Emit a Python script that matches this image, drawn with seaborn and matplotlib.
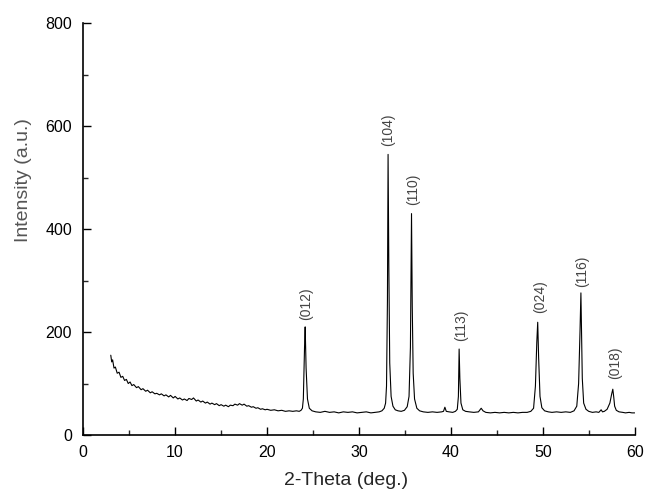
import matplotlib
matplotlib.use("Agg")
import matplotlib.pyplot as plt
from matplotlib.ticker import MultipleLocator
import seaborn as sns
import pandas as pd

# XRD pattern (2-theta in degrees, intensity in a.u.)
two_theta = [
    3.0, 3.1, 3.2, 3.35, 3.5, 3.7, 3.9, 4.1, 4.3, 4.5, 4.7, 4.9, 5.1, 5.3, 5.5,
    5.8, 6.0, 6.3, 6.5, 6.8, 7.0, 7.3, 7.5, 7.8, 8.0, 8.3, 8.5, 8.8, 9.0, 9.3,
    9.5, 9.8, 10.0, 10.3, 10.5, 10.8, 11.0, 11.3, 11.5, 11.8, 12.0, 12.3, 12.5,
    12.8, 13.0, 13.3, 13.5, 13.8, 14.0, 14.3, 14.5, 14.8, 15.0, 15.3, 15.5,
    15.8, 16.0, 16.3, 16.5, 16.8, 17.0, 17.3, 17.5, 17.8, 18.0, 18.3, 18.5,
    18.8, 19.0, 19.3, 19.5, 19.8, 20.0, 20.4, 20.8, 21.2, 21.6, 22.0, 22.4,
    22.8, 23.2, 23.5, 23.7, 23.85, 23.95, 24.0, 24.08, 24.15, 24.25, 24.4,
    24.6, 24.9, 25.3, 25.8, 26.3, 26.8, 27.3, 27.8, 28.3, 28.8, 29.3, 29.8,
    30.3, 30.8, 31.3, 31.8, 32.2, 32.5, 32.75, 32.9, 33.0, 33.1, 33.17, 33.25,
    33.35, 33.5, 33.7, 33.95, 34.25, 34.6, 34.95, 35.25, 35.45, 35.6, 35.72,
    35.8, 35.9, 36.05, 36.3, 36.6, 37.0, 37.5, 38.0, 38.5, 39.0, 39.2, 39.35,
    39.5, 39.8, 40.2, 40.5, 40.7, 40.82, 40.9, 40.98, 41.1, 41.3, 41.6, 42.0,
    42.5, 43.0, 43.3, 43.5, 43.8, 44.3, 44.8, 45.3, 45.8, 46.3, 46.8, 47.3,
    47.8, 48.3, 48.7, 49.0, 49.2, 49.35, 49.45, 49.55, 49.7, 49.9, 50.2, 50.6,
    51.0, 51.5, 52.0, 52.5, 53.0, 53.4, 53.7, 53.9, 54.05, 54.15, 54.22, 54.3,
    54.45, 54.7, 55.0, 55.4, 55.8, 56.1, 56.35, 56.5, 56.7, 57.0, 57.3, 57.5,
    57.62, 57.72, 57.82, 58.0, 58.3, 58.7, 59.0, 59.4, 59.7, 60.0,
]
intensity = [
    155, 142, 146, 130, 132, 120, 122, 112, 114, 106, 108, 100, 103, 96, 98,
    92, 94, 88, 90, 85, 87, 82, 84, 80, 81, 78, 80, 76, 78, 74,
    77, 72, 75, 70, 72, 68, 70, 67, 71, 69, 72, 66, 68, 64, 66,
    62, 64, 60, 62, 59, 61, 57, 59, 56, 58, 55, 58, 57, 60, 58,
    61, 58, 60, 56, 57, 54, 55, 52, 53, 50, 51, 49, 50, 48, 49,
    47, 48, 46, 47, 46, 47, 46, 48, 52, 70, 110, 170, 210, 130, 70,
    52, 47, 45, 44, 46, 44, 45, 43, 45, 44, 45, 43,
    44, 45, 43, 44, 45, 47, 52, 62, 95, 260, 545, 330,
    140, 75, 56, 49, 47, 46, 48, 55, 75, 170, 430,
    250, 120, 70, 52, 47, 45, 44, 45, 44, 45, 46, 54,
    46, 45, 44, 46, 50, 75, 167, 110, 62, 49, 46, 45,
    44, 45, 52, 47, 44, 43, 44, 43, 44, 43, 44, 43,
    44, 44, 46, 52, 95, 180, 219, 150, 75, 53, 47, 45,
    44, 45, 44, 45, 44, 47, 56, 100, 200, 276, 200, 110,
    62, 50, 46, 44, 45, 44, 49, 45, 46, 50, 62, 80,
    89, 74, 56, 48, 45, 44, 43, 44, 43, 43,
]

# Miller indices of the labelled reflections and where their labels sit
hkl_labels = ["(012)", "(104)", "(110)", "(113)", "(024)", "(116)", "(018)"]
label_x = [24.3, 33.2, 35.9, 41.1, 49.7, 54.3, 57.9]
label_y = [256, 592, 478, 213, 268, 317, 140]

df = pd.DataFrame({"2-Theta (deg.)": two_theta, "Intensity (a.u.)": intensity})

sns.set_style("ticks")
plt.rcParams["font.family"] = ["Liberation Sans", "DejaVu Sans"]

fig = plt.figure(figsize=(6.45, 4.91), dpi=100)
ax = fig.add_axes([0.129, 0.114, 0.855, 0.839])

sns.lineplot(data=df, x="2-Theta (deg.)", y="Intensity (a.u.)", color="black",
             linewidth=0.8, ax=ax)

for lab, lx, ly in zip(hkl_labels, label_x, label_y):
    ax.text(lx, ly, lab, rotation=90, ha="center", va="center",
            fontsize=10, color="#444444")

ax.set_xlim(0, 60)
ax.set_ylim(0, 800)
ax.xaxis.set_major_locator(MultipleLocator(10))
ax.xaxis.set_minor_locator(MultipleLocator(5))
ax.yaxis.set_major_locator(MultipleLocator(200))
ax.yaxis.set_minor_locator(MultipleLocator(100))
ax.tick_params(which="major", direction="in", length=6, width=1, labelsize=11.5,
               colors="black")
ax.tick_params(axis="x", which="major", pad=7)
ax.tick_params(axis="y", which="major", pad=8)
ax.tick_params(which="minor", direction="in", length=3.5, width=1)
ax.set_xlabel("2-Theta (deg.)", fontsize=14)
ax.set_ylabel("Intensity (a.u.)", fontsize=14, color="#555555")
ax.xaxis.set_label_coords(0.476, -0.09)
ax.yaxis.set_label_coords(-0.093, 0.62)
sns.despine(ax=ax)
for s in ["left", "bottom"]:
    ax.spines[s].set_linewidth(1.2)
    ax.spines[s].set_color("black")

fig.savefig("out.png", dpi=100)
